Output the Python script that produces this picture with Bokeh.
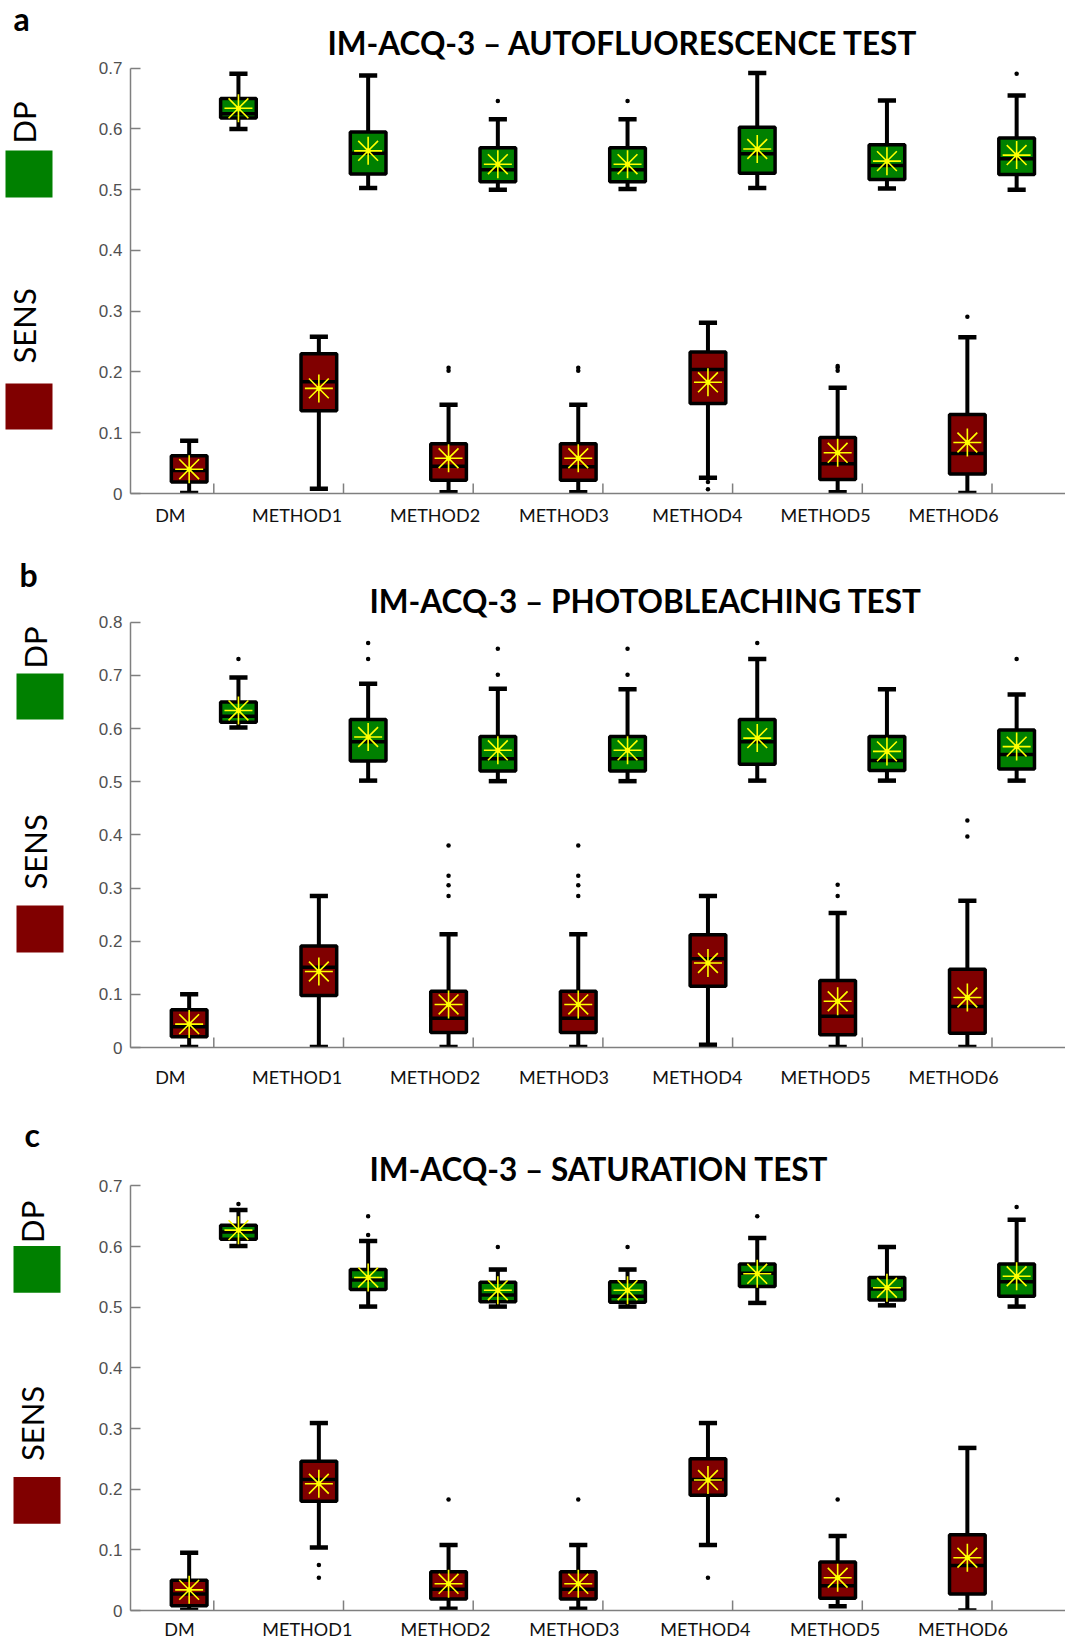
import numpy as np
from bokeh.plotting import figure
from bokeh.models import Range1d, FixedTicker
from bokeh.layouts import column, row
from bokeh.embed import file_html
from bokeh.resources import INLINE
from bokeh.core.properties import value

# ---------------- data ----------------
methods = ["DM", "METHOD1", "METHOD2", "METHOD3", "METHOD4", "METHOD5", "METHOD6"]
titles = ["IM-ACQ-3 \u2013 AUTOFLUORESCENCE TEST",
          "IM-ACQ-3 \u2013 PHOTOBLEACHING TEST",
          "IM-ACQ-3 \u2013 SATURATION TEST"]
letters = ["a", "b", "c"]
series_names = ["DP", "SENS"]

yticks_a = [0, 0.1, 0.2, 0.3, 0.4, 0.5, 0.6, 0.7]
yticks_b = [0, 0.1, 0.2, 0.3, 0.4, 0.5, 0.6, 0.7, 0.8]
yticks_c = [0, 0.1, 0.2, 0.3, 0.4, 0.5, 0.6, 0.7]
ylabels_a = ["0", "0.1", "0.2", "0.3", "0.4", "0.5", "0.6", "0.7"]
ylabels_b = ["0", "0.1", "0.2", "0.3", "0.4", "0.5", "0.6", "0.7", "0.8"]
ylabels_c = ["0", "0.1", "0.2", "0.3", "0.4", "0.5", "0.6", "0.7"]

# panel a - SENS
a_sens_lo   = [0.001, 0.008, 0.002, 0.002, 0.026, 0.002, 0.001]
a_sens_q1   = [0.019, 0.136, 0.022, 0.022, 0.148, 0.023, 0.032]
a_sens_med  = [0.038, 0.184, 0.045, 0.044, 0.204, 0.049, 0.066]
a_sens_q3   = [0.062, 0.230, 0.082, 0.082, 0.233, 0.092, 0.130]
a_sens_hi   = [0.087, 0.258, 0.146, 0.146, 0.281, 0.174, 0.257]
a_sens_mean = [0.040, 0.173, 0.058, 0.058, 0.183, 0.067, 0.084]
a_sens_out_m = [2, 2, 3, 3, 4, 4, 5, 5, 5, 6]
a_sens_out_v = [0.207, 0.202, 0.207, 0.202, 0.019, 0.007, 0.210, 0.207, 0.202, 0.291]
# panel a - DP
a_dp_lo   = [0.600, 0.503, 0.500, 0.501, 0.503, 0.502, 0.500]
a_dp_q1   = [0.618, 0.526, 0.513, 0.513, 0.527, 0.517, 0.525]
a_dp_med  = [0.625, 0.560, 0.533, 0.533, 0.559, 0.540, 0.551]
a_dp_q3   = [0.650, 0.595, 0.569, 0.569, 0.603, 0.574, 0.585]
a_dp_hi   = [0.691, 0.688, 0.616, 0.616, 0.692, 0.647, 0.655]
a_dp_mean = [0.634, 0.564, 0.542, 0.542, 0.567, 0.547, 0.557]
a_dp_out_m = [2, 3, 6]
a_dp_out_v = [0.646, 0.646, 0.691]

# panel b - SENS
b_sens_lo   = [0.001, 0.001, 0.001, 0.001, 0.005, 0.001, 0.001]
b_sens_q1   = [0.020, 0.098, 0.028, 0.028, 0.115, 0.024, 0.027]
b_sens_med  = [0.039, 0.151, 0.055, 0.055, 0.167, 0.059, 0.077]
b_sens_q3   = [0.071, 0.191, 0.106, 0.106, 0.212, 0.126, 0.147]
b_sens_hi   = [0.100, 0.285, 0.213, 0.213, 0.285, 0.253, 0.276]
b_sens_mean = [0.044, 0.143, 0.081, 0.081, 0.159, 0.087, 0.094]
b_sens_out_m = [2, 2, 2, 2, 3, 3, 3, 3, 5, 5, 6, 6]
b_sens_out_v = [0.380, 0.323, 0.305, 0.285, 0.380, 0.323, 0.305, 0.285, 0.306, 0.285, 0.427, 0.397]
# panel b - DP
b_dp_lo   = [0.602, 0.502, 0.501, 0.501, 0.502, 0.502, 0.502]
b_dp_q1   = [0.612, 0.539, 0.520, 0.520, 0.533, 0.521, 0.524]
b_dp_med  = [0.623, 0.575, 0.543, 0.543, 0.575, 0.540, 0.551]
b_dp_q3   = [0.650, 0.617, 0.585, 0.585, 0.617, 0.585, 0.597]
b_dp_hi   = [0.696, 0.684, 0.675, 0.674, 0.731, 0.674, 0.664]
b_dp_mean = [0.634, 0.584, 0.559, 0.559, 0.582, 0.557, 0.566]
b_dp_out_m = [0, 1, 1, 2, 2, 3, 3, 4, 6]
b_dp_out_v = [0.731, 0.761, 0.731, 0.750, 0.701, 0.750, 0.701, 0.761, 0.731]

# panel c - SENS
c_sens_lo   = [0.001, 0.104, 0.003, 0.003, 0.108, 0.007, 0.000]
c_sens_q1   = [0.008, 0.180, 0.019, 0.019, 0.190, 0.020, 0.027]
c_sens_med  = [0.027, 0.216, 0.035, 0.035, 0.216, 0.041, 0.074]
c_sens_q3   = [0.050, 0.246, 0.064, 0.064, 0.250, 0.080, 0.125]
c_sens_hi   = [0.095, 0.309, 0.108, 0.108, 0.309, 0.123, 0.268]
c_sens_mean = [0.034, 0.209, 0.044, 0.044, 0.215, 0.054, 0.087]
c_sens_out_m = [1, 1, 2, 3, 4, 5]
c_sens_out_v = [0.075, 0.054, 0.183, 0.183, 0.054, 0.183]
# panel c - DP
c_dp_lo   = [0.601, 0.501, 0.501, 0.501, 0.507, 0.503, 0.501]
c_dp_q1   = [0.612, 0.529, 0.509, 0.508, 0.534, 0.512, 0.518]
c_dp_med  = [0.624, 0.545, 0.520, 0.518, 0.556, 0.530, 0.542]
c_dp_q3   = [0.635, 0.562, 0.541, 0.542, 0.571, 0.549, 0.571]
c_dp_hi   = [0.660, 0.609, 0.562, 0.562, 0.614, 0.599, 0.644]
c_dp_mean = [0.627, 0.549, 0.528, 0.528, 0.555, 0.532, 0.551]
c_dp_out_m = [0, 1, 1, 2, 3, 4, 6]
c_dp_out_v = [0.670, 0.650, 0.619, 0.599, 0.599, 0.650, 0.665]

panels_data = [
    dict(ticks=yticks_a, labels=ylabels_a,
         sens=(a_sens_lo, a_sens_q1, a_sens_med, a_sens_q3, a_sens_hi, a_sens_mean, a_sens_out_m, a_sens_out_v),
         dp=(a_dp_lo, a_dp_q1, a_dp_med, a_dp_q3, a_dp_hi, a_dp_mean, a_dp_out_m, a_dp_out_v)),
    dict(ticks=yticks_b, labels=ylabels_b,
         sens=(b_sens_lo, b_sens_q1, b_sens_med, b_sens_q3, b_sens_hi, b_sens_mean, b_sens_out_m, b_sens_out_v),
         dp=(b_dp_lo, b_dp_q1, b_dp_med, b_dp_q3, b_dp_hi, b_dp_mean, b_dp_out_m, b_dp_out_v)),
    dict(ticks=yticks_c, labels=ylabels_c,
         sens=(c_sens_lo, c_sens_q1, c_sens_med, c_sens_q3, c_sens_hi, c_sens_mean, c_sens_out_m, c_sens_out_v),
         dp=(c_dp_lo, c_dp_q1, c_dp_med, c_dp_q3, c_dp_hi, c_dp_mean, c_dp_out_m, c_dp_out_v)),
]

# ---------------- layout / style (page pixel coordinates) ----------------
GREEN = "#008000"
DRED = "#800000"
AXIS_COL = "#7f7f7f"
X0_REF = 213.3      # page x of first group tick
XU = 129.7          # px per group
LEFT_W = 70
MAIN_W = 995
BORDER_L = 60
FRAME_L_REF = LEFT_W + BORDER_L
FRAME_R_REF = LEFT_W + MAIN_W
XS = (FRAME_L_REF - X0_REF) / XU
XE = (FRAME_R_REF - X0_REF) / XU
OFF = 0.19          # SENS left / DP right offset inside group
BOX_W = 0.275
CAP_W = 0.14
TITLE_FS = 31.5
TITLE_SHIFT = 12    # empirical baseline correction for text glyphs
LETTER_SHIFT = 10
ROT_SHIFT = 14

LAB_OFF_AB = [-0.335, -0.358, -0.294, -0.300, -0.272, -0.283, -0.296]
LAB_OFF_C = [-0.264, -0.279, -0.214, -0.220, -0.210, -0.210, -0.224]

layouts = [
    dict(top=0, bottom=545, zero=493.0, toptick_ref=67.7, lab_standoff=10, lab_off=LAB_OFF_AB,
         title_x=327, title_y=54, letter_x=13, letter_y=28,
         dp_txt=(37, 143), sens_txt=(37, 363), g_sq=(5, 52, 150, 197), r_sq=(5, 52, 383, 429)),
    dict(top=545, bottom=1095, zero=1047.0, toptick_ref=621.7, lab_standoff=18, lab_off=LAB_OFF_AB,
         title_x=369, title_y=612, letter_x=19, letter_y=584,
         dp_txt=(48, 668), sens_txt=(48, 889), g_sq=(16, 63, 673, 719), r_sq=(16, 63, 905, 952)),
    dict(top=1095, bottom=1642, zero=1612.0, toptick_ref=1185.7, lab_standoff=7, lab_off=LAB_OFF_C,
         title_x=369, title_y=1181, letter_x=24, letter_y=1144,
         dp_txt=(45, 1243), sens_txt=(45, 1462), g_sq=(13, 60, 1246, 1293), r_sq=(13, 60, 1478, 1525)),
]


def draw_series(p, xs, stats, fill):
    lo, q1, med, q3, hi, mean, out_m, out_v = stats
    xs = np.asarray(xs)
    # whiskers
    p.segment(x0=xs, y0=q3, x1=xs, y1=hi, line_color="black", line_width=4)
    p.segment(x0=xs, y0=lo, x1=xs, y1=q1, line_color="black", line_width=4)
    p.segment(x0=xs - CAP_W / 2, y0=hi, x1=xs + CAP_W / 2, y1=hi, line_color="black", line_width=4.5)
    p.segment(x0=xs - CAP_W / 2, y0=lo, x1=xs + CAP_W / 2, y1=lo, line_color="black", line_width=4.5)
    # box
    p.vbar(x=xs, width=BOX_W, bottom=q1, top=q3, fill_color=fill, line_color="black", line_width=3.5)
    p.segment(x0=xs - BOX_W / 2, y0=med, x1=xs + BOX_W / 2, y1=med, line_color="black", line_width=3.5)
    # mean
    p.scatter(x=xs, y=mean, marker="asterisk", size=28, line_color="#FFFF00", line_width=1.6)
    p.scatter(x=xs, y=mean, marker="circle", size=5, fill_color="#FFFF00", line_color=None)
    # outliers
    ox = [xs[m] for m in out_m]
    p.scatter(x=ox, y=out_v, marker="circle", size=4.5, fill_color="black", line_color=None)


rows = []
for i in range(3):
    L = layouts[i]
    D = panels_data[i]
    H = L["bottom"] - L["top"]
    ymax = D["ticks"][-1]
    YU = (L["zero"] - L["toptick_ref"]) / ymax
    ytop = (L["zero"] - L["top"]) / YU
    B = int(round(L["bottom"] - L["zero"]))

    p = figure(width=MAIN_W, height=H, x_range=Range1d(XS, XE), y_range=Range1d(0, ytop),
               output_backend="svg", toolbar_location=None,
               min_border_left=BORDER_L, min_border_right=0, min_border_top=0,
               min_border_bottom=B)
    p.outline_line_color = None
    p.grid.visible = False
    p.background_fill_color = "white"
    p.border_fill_color = "white"

    # y axis
    ya = p.yaxis[0]
    ya.ticker = FixedTicker(ticks=D["ticks"])
    ya.major_label_overrides = {t: s for t, s in zip(D["ticks"], D["labels"])}
    ya.bounds = (0, ymax)
    ya.major_tick_in = 10
    ya.major_tick_out = 0
    ya.minor_tick_line_color = None
    ya.axis_line_color = AXIS_COL
    ya.axis_line_width = 1.5
    ya.major_tick_line_color = AXIS_COL
    ya.major_tick_line_width = 1.5
    ya.major_label_standoff = 8
    ya.major_label_text_font = "Liberation Sans"
    ya.major_label_text_font_size = "17px"
    ya.major_label_text_color = "#505050"

    # x axis (labels only; group tick marks drawn as segments)
    xa = p.xaxis[0]
    lab_pos = [k + L["lab_off"][k] for k in range(len(methods))]
    xa.ticker = FixedTicker(ticks=lab_pos)
    xa.major_label_overrides = {t: m for t, m in zip(lab_pos, methods)}
    xa.major_tick_in = 0
    xa.major_tick_out = 0
    xa.minor_tick_line_color = None
    xa.major_tick_line_color = None
    xa.axis_line_color = AXIS_COL
    xa.axis_line_width = 1.5
    xa.major_label_standoff = L["lab_standoff"]
    xa.major_label_text_font = "Lato"
    xa.major_label_text_font_size = "18px"
    xa.major_label_text_color = "#111111"

    groups = np.arange(len(methods))
    p.segment(x0=groups, y0=0, x1=groups, y1=10 / YU, line_color=AXIS_COL, line_width=1.5)

    draw_series(p, groups - OFF, D["sens"], DRED)
    draw_series(p, groups + OFF, D["dp"], GREEN)

    # title
    p.text(x=[(L["title_x"] - X0_REF) / XU], y=[(L["zero"] - (L["title_y"] - TITLE_SHIFT)) / YU],
           text=[titles[i]], text_font=value("Lato"), text_font_style="bold",
           text_font_size=f"{TITLE_FS}px", text_align="left", text_baseline="alphabetic",
           text_color="black")

    # left legend figure; its frame is aligned with the main frame (top .. zero)
    q = figure(width=LEFT_W, height=H, x_range=Range1d(0, LEFT_W),
               y_range=Range1d(-L["zero"], -L["top"]),
               x_axis_type=None, y_axis_type=None, output_backend="svg", toolbar_location=None,
               min_border_left=0, min_border_right=0, min_border_top=0, min_border_bottom=B)
    q.outline_line_color = None
    q.grid.visible = False
    q.text(x=[L["letter_x"]], y=[-(L["letter_y"] - LETTER_SHIFT)], text=[letters[i]],
           text_font=value("Lato"), text_font_style="bold", text_font_size="32px",
           text_baseline="alphabetic", text_align="left")
    gl, gr, gt, gb = L["g_sq"]
    rl, rr, rt, rb = L["r_sq"]
    q.quad(left=[gl], right=[gr], top=[-gt], bottom=[-gb], fill_color=GREEN, line_color=None)
    q.quad(left=[rl], right=[rr], top=[-rt], bottom=[-rb], fill_color=DRED, line_color=None)
    q.text(x=[L["dp_txt"][0] - ROT_SHIFT], y=[-L["dp_txt"][1]], text=[series_names[0]], angle=np.pi / 2,
           text_font=value("Lato"), text_font_size="31px", text_align="left", text_baseline="alphabetic")
    q.text(x=[L["sens_txt"][0] - ROT_SHIFT], y=[-L["sens_txt"][1]], text=[series_names[1]], angle=np.pi / 2,
           text_font=value("Lato"), text_font_size="31px", text_align="left", text_baseline="alphabetic")

    rows.append(row(q, p))

layout = column(*rows)
open("out.html", "w").write(file_html(layout, INLINE))
